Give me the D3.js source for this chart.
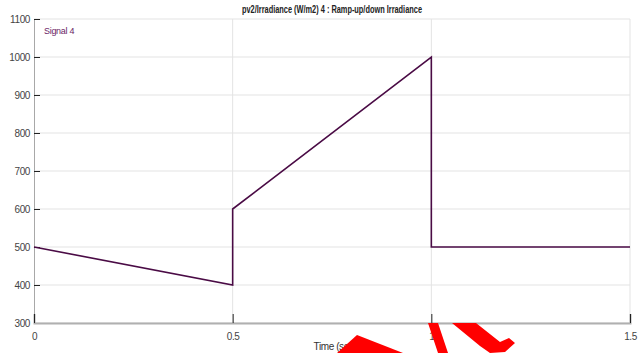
<!DOCTYPE html>
<html>
<head>
<meta charset="utf-8">
<script src="https://cdn.jsdelivr.net/npm/d3@7"></script>
<style>
  body { margin: 0; background: #fff; }
  svg text { font-family: "Liberation Sans Narrow", "Arial Narrow", "Liberation Sans", Arial, sans-serif; }
</style>
</head>
<body>
<div id="chart"></div>
<script>
// signal data (time in sec, irradiance in W/m2)
var times = [0, 0.5, 0.5, 1, 1, 1.5];
var irradiance = [500, 400, 600, 1000, 500, 500];
var xTicks = [0, 0.5, 1, 1.5];
var yTicks = [300, 400, 500, 600, 700, 800, 900, 1000, 1100];
var seriesName = "Signal 4";
var title = "pv2/Irradiance (W/m2) 4 : Ramp-up/down Irradiance";

var width = 641, height = 353;
var margin = {top: 19, right: 11, bottom: 30, left: 34};

var svg = d3.select("#chart").append("svg")
    .attr("width", width)
    .attr("height", height);

var x = d3.scaleLinear().domain([0, 1.5]).range([margin.left, width - margin.right]);
var y = d3.scaleLinear().domain([300, 1100]).range([height - margin.bottom, margin.top]);

// grid
svg.append("g").selectAll("line")
    .data(yTicks)
    .enter().append("line")
    .attr("x1", x(0)).attr("x2", x(1.5))
    .attr("y1", (d) => y(d)).attr("y2", (d) => y(d))
    .style("stroke", "#e3e3e3")
    .style("stroke-width", 1);

svg.append("g").selectAll("line")
    .data(xTicks.slice(1))
    .enter().append("line")
    .attr("x1", (d) => x(d)).attr("x2", (d) => x(d))
    .attr("y1", y(300)).attr("y2", y(1100))
    .style("stroke", "#e3e3e3")
    .style("stroke-width", 1);

// y axis
var yAxis = svg.append("g")
    .attr("transform", "translate(" + x(0) + ",0)")
    .call(d3.axisRight(y).tickValues(yTicks).tickSize(6).tickFormat(d3.format("d")));
yAxis.select(".domain").style("stroke", "#a8a8a8");
yAxis.selectAll(".tick line").style("stroke", "#222");
yAxis.selectAll(".tick text")
    .attr("x", -4)
    .attr("text-anchor", "end")
    .style("font-size", "10px")
    .style("letter-spacing", "-0.4px")
    .style("fill", "#444");

// x axis
var xAxis = svg.append("g")
    .attr("transform", "translate(0," + y(300) + ")")
    .call(d3.axisTop(x).tickValues(xTicks).tickSize(9).tickFormat(d3.format("")));
xAxis.select(".domain").style("stroke", "#b0b0b0").style("stroke-width", 2);
xAxis.selectAll(".tick line").style("stroke", "#222");
xAxis.selectAll(".tick text")
    .attr("y", 10)
    .attr("dy", "0.71em")
    .style("font-size", "10px")
    .style("letter-spacing", "-0.4px")
    .style("fill", "#444");

svg.append("text")
    .attr("x", 335).attr("y", 350)
    .attr("text-anchor", "middle")
    .style("font-size", "10px")
    .style("letter-spacing", "-0.4px")
    .style("fill", "#333")
    .text("Time (sec)");

// title
svg.append("text")
    .attr("x", 332).attr("y", 13)
    .attr("text-anchor", "middle")
    .attr("textLength", 180)
    .attr("lengthAdjust", "spacingAndGlyphs")
    .style("font-size", "10px")
    .style("font-weight", "bold")
    .style("fill", "#222")
    .text(title);

// signal line
var line = d3.line()
    .x((d, i) => x(times[i]))
    .y((d) => y(d));

svg.append("path")
    .datum(irradiance)
    .attr("d", line)
    .style("fill", "none")
    .style("stroke", "#4a0b45")
    .style("stroke-width", 1.6);

svg.append("text")
    .attr("x", 44).attr("y", 34)
    .style("font-size", "9px")
    .style("letter-spacing", "-0.3px")
    .style("fill", "#6b2466")
    .text(seriesName);

// red overlay shapes at the bottom of the picture
var redShapes = [
    [[337, 353], [357, 335], [403, 353]],
    [[428, 323], [438, 323], [448, 353], [438, 353]],
    [[452, 323], [476, 323], [500, 342], [509, 338], [515, 343], [505, 352], [490, 353], [480, 346]]
];
svg.append("g").selectAll("polygon")
    .data(redShapes)
    .enter().append("polygon")
    .attr("points", (d) => d.map((p) => p.join(",")).join(" "))
    .style("fill", "#ff0000");
</script>
</body>
</html>
